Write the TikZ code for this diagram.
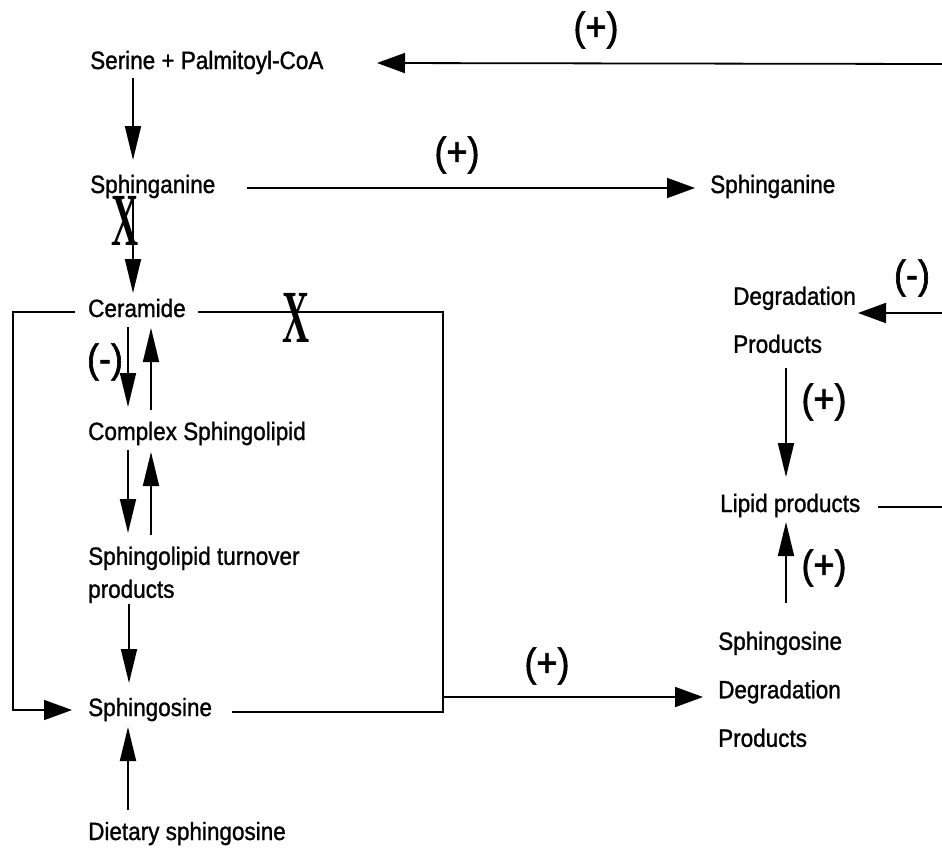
\documentclass[tikz,border=0pt]{standalone}
\usepackage{fontspec}
\setmainfont{Liberation Sans}[FakeStretch=0.9,FakeBold=1.2]
\newfontfamily\labfont{Liberation Sans}[FakeStretch=0.9,FakeBold=1.5]
\newfontfamily\xfont{Liberation Serif}[FakeStretch=0.5]
\usetikzlibrary{arrows.meta}
\begin{document}
\begin{tikzpicture}[x=1pt,y=-1pt,
  txt/.style={inner sep=0pt,anchor=base west,font=\fontsize{25}{30}\selectfont},
  mtxt/.style={inner sep=0pt,anchor=north west,align=left},
  lab/.style={inner sep=0pt,font=\labfont\fontsize{40}{40}\selectfont},
  xmark/.style={inner sep=0pt,font=\xfont\bfseries\fontsize{75}{75}\selectfont},
  conn/.style={line width=1.8pt},
  harr/.style={conn,-{Triangle[length=28pt,width=20pt]}},
  varr/.style={conn,-{Triangle[length=34pt,width=16pt]}}]
\useasboundingbox (0,0) rectangle (942,849);
% text nodes
\node[txt] (ser) at (90,69) {Serine + Palmitoyl-CoA};
\node[txt] (sphL) at (90,193) {Sphinganine};
\node[txt] (sphR) at (710,193) {Sphinganine};
\node[txt] (cer) at (88,317) {Ceramide};
\node[txt] (cpx) at (88,440) {Complex Sphingolipid};
\node[mtxt,font=\fontsize{25}{33}\selectfont] (turn) at (88,546.5) {Sphingolipid turnover\\products};
\node[txt] (sgL) at (88,716) {Sphingosine};
\node[txt] (diet) at (88,840) {Dietary sphingosine};
\node[mtxt,font=\fontsize{25}{48}\selectfont] (degT) at (733,286.5) {Degradation\\Products};
\node[txt] (lip) at (720,512) {Lipid products};
\node[mtxt,font=\fontsize{25}{48.5}\selectfont] (sgd) at (718,631.5) {Sphingosine\\Degradation\\Products};
% free ends at the right edge
\coordinate (e1) at (942,64);
\coordinate (e2) at (942,313);
\coordinate (e3) at (942,507);
% connectors
\draw[harr] (e1) -- ([shift={(287,-6)}]ser.base west);
\draw[varr] ([shift={(43,9)}]ser.base west) -- ([shift={(43,-33)}]sphL.base west);
\draw[harr] ([shift={(157,-5)}]sphL.base west) -- ([shift={(-15,-5)}]sphR.base west);
\draw[varr] ([shift={(43,4)}]sphL.base west) -- ([shift={(45,-24)}]cer.base west);
\draw[varr] ([shift={(40,10)}]cer.base west) -- ([shift={(40,-33)}]cpx.base west);
\draw[varr] ([shift={(63,-30)}]cpx.base west) -- ([shift={(63,11)}]cer.base west);
\draw[varr] ([shift={(40,10)}]cpx.base west) -- ([shift={(40,-13.5)}]turn.north west);
\draw[varr] ([shift={(63,-11.5)}]turn.north west) -- ([shift={(63,12)}]cpx.base west);
\draw[varr] ([shift={(41,57)}]turn.north west) -- ([shift={(41,-33)}]sgL.base west);
\draw[varr] ([shift={(40,-30)}]diet.base west) -- ([shift={(40,11)}]sgL.base west);
\draw[harr] ([shift={(-13,-5)}]cer.base west) -- ++(-62,0) |- ([shift={(-16,-6)}]sgL.base west);
\draw[conn] ([shift={(110,-5)}]cer.base west) -- ++(245,0) coordinate (rc) |- ([shift={(144,-4)}]sgL.base west);
\draw[harr] ([shift={(0,385)}]rc) -- ([shift={(-15,65.5)}]sgd.north west);
\draw[harr] (e2) -- ([shift={(125,26.5)}]degT.north west);
\draw[varr] ([shift={(53,81.5)}]degT.north west) -- ([shift={(66,-35)}]lip.base west);
\draw[conn] ([shift={(158,-5)}]lip.base west) -- (e3);
\draw[varr] ([shift={(68,-28.5)}]sgd.north west) -- ([shift={(66,10)}]lip.base west);
% labels
\node[lab] (p1) at (596,30) {(+)};
\node[lab] (p2) at (457,155) {(+)};
\node[lab] (p3) at (547,666) {(+)};
\node[lab] (m1) at (105,362) {(-)};
\node[lab] (m2) at (912,278) {(-)};
\node[lab] (p4) at (824,402) {(+)};
\node[lab] (p5) at (824,568) {(+)};
% X marks
\node[xmark] (x1) at (125,221) {X};
\node[xmark] (x2) at (296,318) {X};
\end{tikzpicture}
\end{document}
